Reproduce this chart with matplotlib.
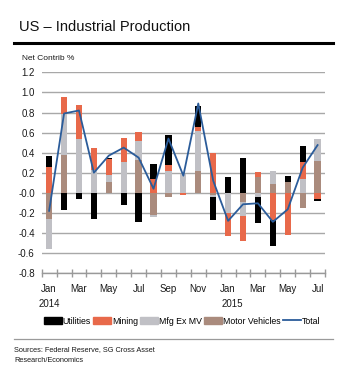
import numpy as np
import matplotlib
matplotlib.use("Agg")
import matplotlib.pyplot as plt
from matplotlib import font_manager
from matplotlib.patches import Patch
from matplotlib.lines import Line2D

# Monthly contributions to US industrial production, Jan 2014 - Jul 2015
months = ["Jan", "Feb", "Mar", "Apr", "May", "Jun", "Jul", "Aug", "Sep", "Oct", "Nov", "Dec",
          "Jan", "Feb", "Mar", "Apr", "May", "Jun", "Jul"]
years = ["2014", "2015"]

utilities = [0.115, -0.17, -0.065, -0.265, 0.015, -0.12, -0.29, 0.15, 0.30, 0.0, 0.21, -0.235,
             0.155, 0.345, -0.26, -0.26, 0.056, 0.157, -0.015]
mining = [0.252, 0.172, 0.338, 0.216, 0.16, 0.24, 0.09, 0.133, 0.055, -0.023, 0.043, 0.40,
          -0.235, -0.25, 0.05, -0.273, -0.42, 0.166, -0.065]
mfg_ex_mv = [-0.306, 0.408, 0.534, 0.226, 0.067, 0.308, 0.192, -0.017, 0.22, 0.185, 0.397, -0.02,
             -0.2, -0.143, -0.04, 0.133, 0.0, 0.142, 0.216]
motor_vehicles = [-0.257, 0.375, 0.0, 0.0, 0.108, 0.0, 0.325, -0.223, -0.045, 0.0, 0.217, -0.02,
                  0.0, -0.09, 0.153, 0.083, 0.11, -0.157, 0.318]
total = [-0.18, 0.79, 0.82, 0.2, 0.37, 0.45, 0.35, 0.04, 0.54, 0.17, 0.89, 0.12,
         -0.28, -0.115, -0.105, -0.29, -0.165, 0.25, 0.475]

names = {f.name for f in font_manager.fontManager.ttflist}
narrow = "Liberation Sans Narrow" if "Liberation Sans Narrow" in names else "Liberation Sans"
plt.rcParams["font.family"] = ["Liberation Sans", "DejaVu Sans"]

c_util = "#000000"
c_mining = "#E8694A"
c_mfg = "#C0C0C5"
c_mv = "#AA8B7D"
c_total = "#2B5C9A"
txt = "#1a1a1a"

fig = plt.figure(figsize=(3.4, 3.75), dpi=100)
ax = fig.add_axes([0.1226, 0.272, 0.8334, 0.535])

x = np.arange(len(months))
pos_base = np.zeros(len(x))
neg_base = np.zeros(len(x))
# stacked from the zero line outward: vehicles first, utilities last
for vals, col in [(motor_vehicles, c_mv), (mfg_ex_mv, c_mfg), (mining, c_mining), (utilities, c_util)]:
    v = np.array(vals)
    bottom = np.where(v >= 0, pos_base, neg_base)
    ax.bar(x, v, 0.42, bottom=bottom, color=col, linewidth=0, zorder=2)
    pos_base += np.clip(v, 0, None)
    neg_base += np.clip(v, None, 0)

ax.plot(x, total, color=c_total, lw=1.3, zorder=3)

ax.set_xlim(-0.5, len(x) - 0.5)
ax.set_ylim(-0.8, 1.2)
yt = np.arange(-0.8, 1.21, 0.2)
ax.set_yticks(yt)
ax.set_yticklabels([f"{v:.1f}" for v in yt], family=narrow, fontsize=7, color=txt)
ax.grid(axis="y", color="#a8a8a8", lw=1.0, zorder=0)
ax.set_axisbelow(True)
for s in ["left", "right", "top"]:
    ax.spines[s].set_visible(False)
ax.spines["bottom"].set_color("#999999")
ax.spines["bottom"].set_linewidth(1.0)
ax.tick_params(axis="y", length=0, pad=5)

ax.set_xticks(x[::2])
ax.set_xticklabels(months[::2], family=narrow, fontsize=7, color=txt)
ax.set_xticks(np.arange(-0.5, len(x), 1), minor=True)
ax.tick_params(axis="x", which="major", length=0, pad=8)
ax.tick_params(axis="x", which="minor", direction="inout", length=6, color="#999999", width=1)

trans = ax.get_xaxis_transform()
ax.text(0, -0.155, years[0], transform=trans, ha="center", va="center",
        family=narrow, fontsize=7, color=txt)
ax.text(12.25, -0.155, years[1], transform=trans, ha="center", va="center",
        family=narrow, fontsize=7, color=txt)

fig.text(0.056, 0.918, "US \u2013 Industrial Production", fontsize=10.5, color="#111111", va="baseline")
fig.add_artist(Line2D([0.041, 0.979], [0.885, 0.885], color="black", lw=2.2, transform=fig.transFigure))
fig.text(0.065, 0.84, "Net Contrib %", family=narrow, fontsize=6, color=txt, va="baseline")

handles = [Patch(color=c_util, label="Utilities"),
           Patch(color=c_mining, label="Mining"),
           Patch(color=c_mfg, label="Mfg Ex MV"),
           Patch(color=c_mv, label="Motor Vehicles"),
           Line2D([], [], color=c_total, lw=1.3, label="Total")]
fig.legend(handles=handles, loc="center", bbox_to_anchor=(0.535, 0.144), ncol=5, frameon=False,
           prop={"family": narrow, "size": 6.3}, handlelength=2.05, handleheight=0.8,
           handletextpad=0.1, columnspacing=0.25, borderpad=0)

fig.add_artist(Line2D([0.041, 0.979], [0.096, 0.096], color="#9a9a9a", lw=0.9, transform=fig.transFigure))
fig.text(0.041, 0.064, "Sources: Federal Reserve, SG Cross Asset", fontsize=5.3, color=txt, va="baseline")
fig.text(0.041, 0.036, "Research/Economics", fontsize=5.3, color=txt, va="baseline")

fig.savefig("out.png", dpi=100)
